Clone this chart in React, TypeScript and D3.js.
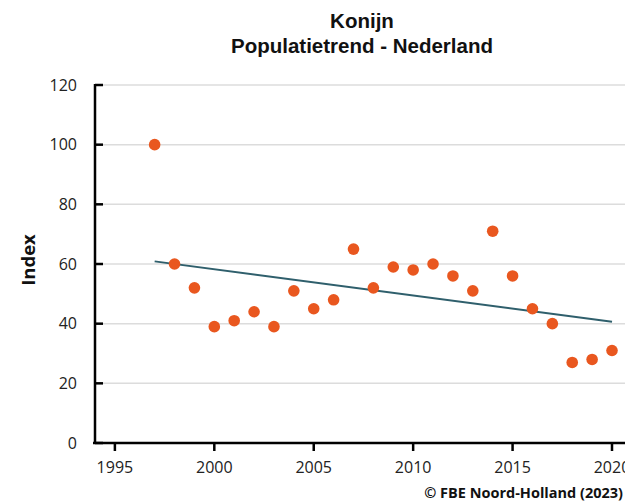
import React from "react";
import * as d3 from "d3";

const years = [1997, 1998, 1999, 2000, 2001, 2002, 2003, 2004, 2005, 2006, 2007, 2008, 2009, 2010, 2011, 2012, 2013, 2014, 2015, 2016, 2017, 2018, 2019, 2020];
const indexValues = [100, 60, 52, 39, 41, 44, 39, 51, 45, 48, 65, 52, 59, 58, 60, 56, 51, 71, 56, 45, 40, 27, 28, 31];
const xTicks = [1995, 2000, 2005, 2010, 2015, 2020];
const yTicks = [0, 20, 40, 60, 80, 100, 120];
const titleLines = ["Konijn", "Populatietrend - Nederland"];
const yLabel = "Index";
const credit = "© FBE Noord-Holland (2023)";

const W = 625;
const H = 501;

export default function App() {
  const x = d3.scaleLinear().domain([1994, 2020]).range([95, 612]);
  const y = d3.scaleLinear().domain([0, 120]).range([443, 85]);

  const data = years.map((yr, i) => ({ yr, v: indexValues[i] }));
  const xm = d3.mean(years)!;
  const ym = d3.mean(indexValues)!;
  const sxy = d3.sum(data, (d) => (d.yr - xm) * (d.v - ym));
  const sxx = d3.sum(data, (d) => (d.yr - xm) ** 2);
  const slope = sxy / sxx;
  const trend = [years[0], years[years.length - 1]].map((yr) => ({ yr, v: ym + slope * (yr - xm) }));
  const line = d3
    .line<{ yr: number; v: number }>()
    .x((d) => x(d.yr))
    .y((d) => y(d.v));

  const tickFont = "'Open Sans', 'DejaVu Sans', sans-serif";

  return (
    <svg
      width={W}
      height={H}
      style={{ position: "absolute", left: 0, top: 0, background: "#fff" }}
    >
      <rect x={0} y={0} width={W} height={H} fill="#fff" />
      {/* gridlines */}
      {yTicks.filter((t) => t > 0).map((t) => (
        <line key={t} x1={x(1994)} x2={W} y1={y(t)} y2={y(t)} stroke="#dcdcdc" strokeWidth={1.5} />
      ))}
      {/* trend */}
      <path d={line(trend)!} fill="none" stroke="#2f5f6c" strokeWidth={2} />
      {/* points */}
      {data.map((d) => (
        <circle key={d.yr} cx={x(d.yr)} cy={y(d.v)} r={5.8} fill="#e9571f" />
      ))}
      {/* y axis */}
      <line x1={x(1994)} x2={x(1994)} y1={y(120) - 1} y2={y(0) + 1} stroke="#000" strokeWidth={2.5} />
      {yTicks.map((t) => (
        <g key={t}>
          <line x1={x(1994)} x2={x(1994) + 8} y1={y(t)} y2={y(t)} stroke="#000" strokeWidth={2.5} />
          <text x={77} y={y(t)} dy="0.35em" textAnchor="end" fontFamily={tickFont} fontSize={16} fill="#222">
            {t}
          </text>
        </g>
      ))}
      {/* x axis */}
      <line x1={x(1994) - 2} x2={W} y1={y(0)} y2={y(0)} stroke="#000" strokeWidth={2.5} />
      {xTicks.map((t) => (
        <g key={t}>
          <line x1={x(t)} x2={x(t)} y1={y(0)} y2={y(0) + 8} stroke="#000" strokeWidth={2.5} />
          <text x={x(t)} y={y(0) + 30} textAnchor="middle" fontFamily={tickFont} fontSize={16} fill="#222">
            {t}
          </text>
        </g>
      ))}
      {/* title */}
      {titleLines.map((s, i) => (
        <text
          key={i}
          x={362}
          y={28 + i * 25}
          textAnchor="middle"
          fontFamily="'Liberation Sans', Arial, sans-serif"
          fontWeight="bold"
          fontSize={20.5}
          fill="#111"
        >
          {s}
        </text>
      ))}
      {/* y label */}
      <text
        transform={`translate(35,${260}) rotate(-90)`}
        textAnchor="middle"
        fontFamily={tickFont}
        fontWeight="bold"
        fontSize={18.5}
        fill="#111"
      >
        {yLabel}
      </text>
      {/* credit */}
      <text
        x={623}
        y={498}
        textAnchor="end"
        fontFamily={tickFont}
        fontWeight="bold"
        fontSize={14.5}
        fill="#111"
      >
        {credit}
      </text>
    </svg>
  );
}
